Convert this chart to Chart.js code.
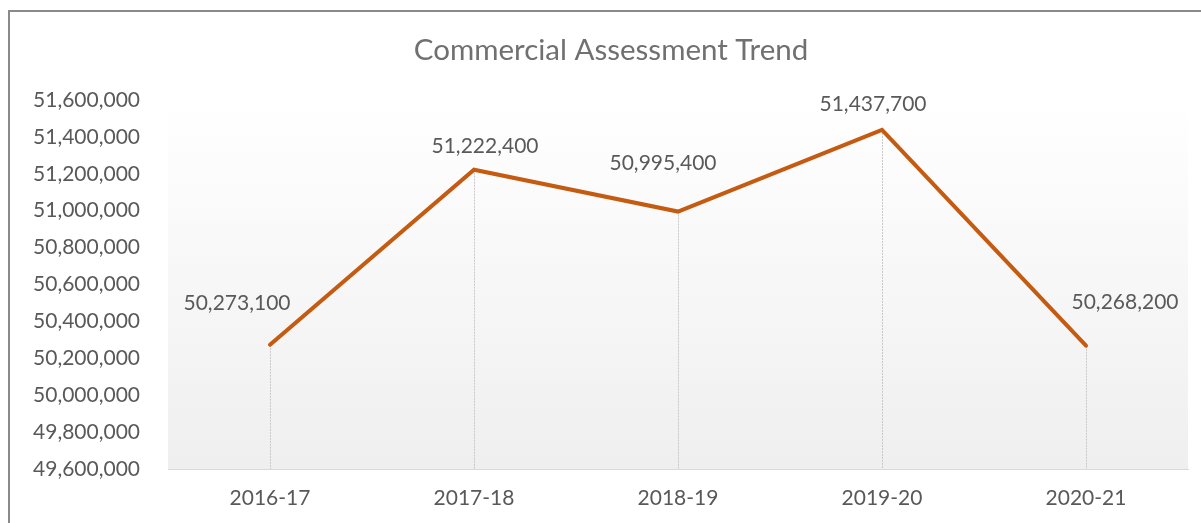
<!DOCTYPE html>
<html>
<head>
<meta charset="utf-8">
<script src="https://cdn.jsdelivr.net/npm/chart.js@4"></script>
<style>
  body { margin: 0; background: #fff; overflow: hidden; }
  .frame { position: absolute; left: 8px; top: 10px; width: 1300px; height: 600px;
           border-left: 2px solid #8a8a8a; border-top: 2px solid #8a8a8a; }
  .wrap { position: absolute; left: 0; top: 0; width: 1201px; height: 523px; }
</style>
</head>
<body>
<div class="frame"></div>
<div class="wrap"><canvas id="myChart" width="1201" height="523"></canvas></div>
<script>
  // chart data
  const years = ["2016-17", "2017-18", "2018-19", "2019-20", "2020-21"];
  const assessments = [50273100, 51222400, 50995400, 51437700, 50268200];
  const yMin = 49600000;
  const yMax = 51600000;
  const yStep = 200000;
  const chartTitle = "Commercial Assessment Trend";

  // where each value label sits relative to its point
  const labelShift = [[-33, -42], [11, -23], [-15, -48], [-9, -26], [39, -43]];

  const textColor = "#595959";
  const fontFamily = "Lato, 'Liberation Sans', sans-serif";

  // plot area gradient
  const plotBackground = {
    id: "plotBackground",
    beforeDraw(chart) {
      const { ctx, chartArea } = chart;
      const g = ctx.createLinearGradient(0, chartArea.top, 0, chartArea.bottom);
      g.addColorStop(0, "#ffffff");
      g.addColorStop(1, "#efefef");
      ctx.save();
      ctx.fillStyle = g;
      ctx.fillRect(chartArea.left, chartArea.top, chartArea.right - chartArea.left, chartArea.bottom - chartArea.top);
      ctx.restore();
    },
  };

  // title centred on the whole frame (Excel style)
  const frameTitle = {
    id: "frameTitle",
    afterDraw(chart) {
      const { ctx } = chart;
      ctx.save();
      ctx.fillStyle = "#707070";
      ctx.font = "29.5px " + fontFamily;
      ctx.textAlign = "center";
      ctx.textBaseline = "middle";
      ctx.fillText(chartTitle, 611, 50);
      ctx.restore();
    },
  };

  // drop lines from each point down to the axis
  const dropLines = {
    id: "dropLines",
    beforeDatasetsDraw(chart) {
      const { ctx, chartArea } = chart;
      const meta = chart.getDatasetMeta(0);
      ctx.save();
      ctx.strokeStyle = "#c8c8c8";
      ctx.lineWidth = 1;
      ctx.setLineDash([2, 1]);
      meta.data.forEach((pt) => {
        const x = Math.round(pt.x) + 0.5;
        ctx.beginPath();
        ctx.moveTo(x, pt.y);
        ctx.lineTo(x, chartArea.bottom);
        ctx.stroke();
      });
      ctx.restore();
    },
  };

  // value labels
  const valueLabels = {
    id: "valueLabels",
    afterDatasetsDraw(chart) {
      const { ctx } = chart;
      const meta = chart.getDatasetMeta(0);
      ctx.save();
      ctx.fillStyle = textColor;
      ctx.font = "21px " + fontFamily;
      ctx.textAlign = "center";
      ctx.textBaseline = "middle";
      meta.data.forEach((pt, i) => {
        const v = chart.data.datasets[0].data[i];
        ctx.fillText(v.toLocaleString("en-US"), pt.x + labelShift[i][0], pt.y + labelShift[i][1]);
      });
      ctx.restore();
    },
  };

  const ctx = document.getElementById("myChart");
  const chart = new Chart(ctx, {
    type: "line",
    data: {
      labels: years,
      datasets: [
        {
          label: "Commercial",
          data: assessments,
          borderColor: "#c55a11",
          borderWidth: 4,
          borderCapStyle: "round",
          borderJoinStyle: "miter",
          pointRadius: 0,
          tension: 0,
        },
      ],
    },
    options: {
      responsive: false,
      animation: false,
      layout: { padding: { left: 0, right: 13, top: 100, bottom: 0 } },
      plugins: {
        legend: { display: false },
        tooltip: { enabled: false },
        title: { display: false },
      },
      scales: {
        x: {
          offset: true,
          grid: { display: false, drawTicks: false },
          border: { display: true, color: "#d9d9d9", width: 1 },
          ticks: { color: textColor, font: { family: fontFamily, size: 21 }, padding: 17 },
          afterFit(scale) { scale.height = 54; },
        },
        y: {
          min: yMin,
          max: yMax,
          grid: { display: false, drawTicks: false },
          border: { display: false },
          ticks: {
            stepSize: yStep,
            color: textColor,
            font: { family: fontFamily, size: 21 },
            padding: 28,
            callback: (v) => v.toLocaleString("en-US"),
          },
          afterFit(scale) { scale.width = 168; },
        },
      },
    },
    plugins: [plotBackground, dropLines, valueLabels, frameTitle],
  });
</script>
</body>
</html>
